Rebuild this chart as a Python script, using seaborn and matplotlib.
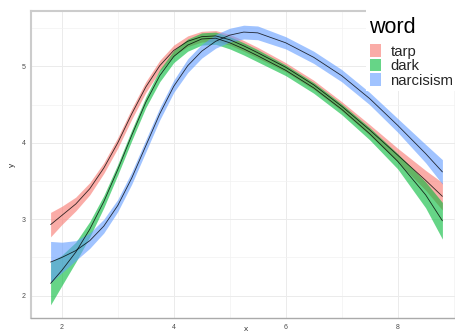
import numpy as np
import pandas as pd

import matplotlib
matplotlib.use("Agg")
import matplotlib.pyplot as plt
from matplotlib.patches import Patch, Rectangle
from matplotlib.ticker import MultipleLocator
import seaborn as sns

# values (smoothed fits + half-width of the band)
x_vals = [1.8, 2.0, 2.25, 2.5, 2.75, 3.0, 3.25, 3.5, 3.75, 4.0, 4.25, 4.5,
          4.75, 5.0, 5.25, 5.5, 6.0, 6.5, 7.0, 7.5, 8.0, 8.5, 8.8]

tarp_fit = [2.93, 3.05, 3.20, 3.40, 3.67, 4.00, 4.38, 4.73, 5.01, 5.21, 5.33, 5.39,
            5.40, 5.35, 5.27, 5.18, 4.99, 4.76, 4.48, 4.17, 3.84, 3.51, 3.30]
dark_fit = [2.16, 2.33, 2.57, 2.87, 3.23, 3.65, 4.10, 4.53, 4.88, 5.13, 5.28, 5.36,
            5.37, 5.31, 5.23, 5.14, 4.95, 4.72, 4.44, 4.12, 3.76, 3.32, 2.98]
narc_fit = [2.44, 2.50, 2.59, 2.72, 2.91, 3.18, 3.54, 3.96, 4.38, 4.74, 5.01, 5.20,
            5.33, 5.41, 5.45, 5.44, 5.31, 5.12, 4.88, 4.58, 4.23, 3.86, 3.62]

tarp_se = [0.16, 0.12, 0.09, 0.08, 0.07, 0.07, 0.07, 0.07, 0.07, 0.07, 0.07, 0.07,
           0.07, 0.07, 0.07, 0.07, 0.06, 0.06, 0.06, 0.07, 0.09, 0.13, 0.18]
dark_se = [0.28, 0.20, 0.13, 0.10, 0.08, 0.07, 0.07, 0.07, 0.08, 0.08, 0.08, 0.08,
           0.08, 0.08, 0.08, 0.08, 0.07, 0.07, 0.07, 0.08, 0.10, 0.17, 0.24]
narc_se = [0.27, 0.20, 0.13, 0.10, 0.09, 0.08, 0.08, 0.08, 0.08, 0.08, 0.09, 0.09,
           0.09, 0.09, 0.09, 0.09, 0.08, 0.08, 0.08, 0.08, 0.09, 0.12, 0.16]

words = ["tarp", "dark", "narcisism"]
colors = ["#F8766D", "#00BA38", "#619CFF"]

frames = []
for w, fit, se in zip(words, [tarp_fit, dark_fit, narc_fit], [tarp_se, dark_se, narc_se]):
    frames.append(pd.DataFrame({"x": x_vals, "y": fit, "se": se, "word": w}))
df = pd.concat(frames, ignore_index=True)

sns.set_style("white")
plt.rcParams["font.family"] = ["Liberation Sans", "DejaVu Sans"]

fig = plt.figure(figsize=(4.55, 3.33), dpi=100)
# panel runs past the right edge like the cropped original
ax = fig.add_axes([31 / 455, 15 / 333, 431 / 455, 307 / 333])

for w, c in zip(words, colors):
    sub = df[df["word"] == w]
    ax.fill_between(sub["x"], sub["y"] - sub["se"], sub["y"] + sub["se"],
                    color=c, alpha=0.6, linewidth=0)
    sns.lineplot(data=sub, x="x", y="y", color="black", linewidth=0.6,
                 alpha=0.8, ax=ax)

ax.set_xlim(1.45, 9.15)
ax.set_ylim(1.708, 5.726)
ax.xaxis.set_major_locator(MultipleLocator(2))
ax.xaxis.set_minor_locator(MultipleLocator(1))
ax.yaxis.set_major_locator(MultipleLocator(1))
ax.yaxis.set_minor_locator(MultipleLocator(0.5))
ax.grid(which="major", color="#EBEBEB", linewidth=0.7)
ax.grid(which="minor", color="#F2F2F2", linewidth=0.5)
ax.set_axisbelow(True)

for side in ["top", "left", "right"]:
    ax.spines[side].set_color("#CCCCCC")
    ax.spines[side].set_linewidth(1.5)
ax.spines["bottom"].set_color("#AAAAAA")
ax.spines["bottom"].set_linewidth(1.0)

ax.tick_params(axis="both", which="major", labelsize=5, labelcolor="#4D4D4D",
               color="#999999", length=2, width=0.5, pad=2)
ax.tick_params(axis="both", which="minor", length=0)
ax.set_xlabel("x", fontsize=6, color="#333333", labelpad=-3)
ax.set_ylabel("y", fontsize=6, color="#333333", labelpad=4)

# white legend box sitting over the top-right of the panel
fig.patches.append(Rectangle((366 / 455, 1 - 91 / 333), 89 / 455, 91 / 333,
                             transform=fig.transFigure, facecolor="white",
                             edgecolor="none", zorder=2))
fig.text(369 / 455, 1 - 33 / 333, "word", fontsize=15.5, va="baseline",
         ha="left", color="black", zorder=3)

handles = [Patch(facecolor=c, alpha=0.6, edgecolor="none") for c in colors]
leg = fig.legend(handles, words, loc="upper left",
                 bbox_to_anchor=(366 / 455, 1 - 40 / 333), fontsize=10.7,
                 frameon=False, handlelength=0.74, handleheight=0.92,
                 handletextpad=0.6, labelspacing=0.0, borderpad=0.3,
                 borderaxespad=0)
leg.set_zorder(3)

fig.savefig("out.png", dpi=100)
plt.close(fig)
